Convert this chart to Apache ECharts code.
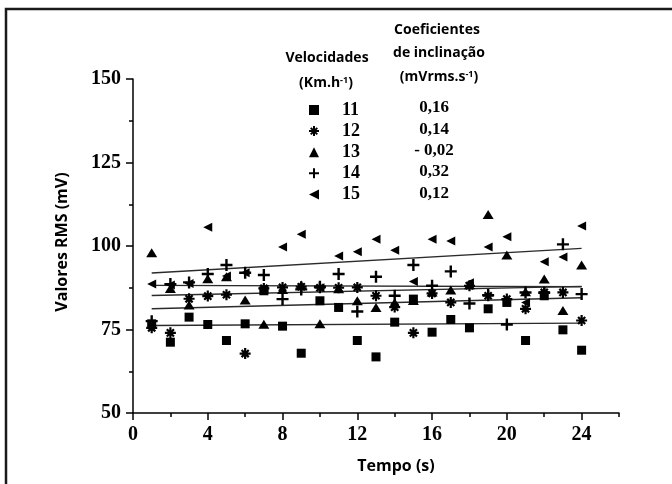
<!DOCTYPE html>
<html>
<head>
<meta charset="utf-8">
<script src="https://cdn.jsdelivr.net/npm/echarts@6/dist/echarts.min.js"></script>
<style>
html, body { margin: 0; padding: 0; background: #fff; }
#chart { width: 672px; height: 484px; }
</style>
</head>
<body>
<div id="chart"></div>
<script>
// tempo (s)
var tempo = [1, 2, 3, 4, 5, 6, 7, 8, 9, 10, 11, 12, 13, 14, 15, 16, 17, 18, 19, 20, 21, 22, 23, 24];

// valores RMS (mV) por velocidade
var v11 = [76.7, 71.2, 78.7, 76.5, 71.7, 76.7, 86.6, 76.0, 67.9, 83.6, 81.6, 71.7, 66.8, 77.2, 84.1, 74.2, 78.0, 75.5, 81.2, 83.1, 71.7, 85.1, 74.9, 68.8];
var v12 = [75.5, 74.0, 84.2, 85.0, 85.4, 67.8, 87.3, 87.6, 87.8, 87.5, 87.5, 87.6, 85.1, 81.7, 74.0, 85.8, 83.1, 88.1, 85.1, 84.1, 81.2, 86.1, 86.1, 77.7];
var v13 = [98.0, 87.3, 82.3, 90.2, 90.8, 83.8, 76.6, 87.0, 88.3, 76.7, 87.2, 83.6, 81.6, 83.0, 83.7, 86.2, 86.8, 88.4, 109.4, 97.3, 86.3, 90.1, 80.7, 94.3];
var v14 = [77.5, 88.6, 89.1, 91.6, 94.3, 92.0, 91.3, 84.1, 87.0, 87.8, 91.6, 80.4, 90.8, 85.1, 94.3, 88.1, 92.4, 82.8, 85.3, 76.5, 86.1, 86.0, 100.5, 85.6];
var v15 = [88.6, 88.3, 88.8, 105.6, 91.0, 92.0, 87.0, 99.7, 103.5, 87.5, 97.0, 98.3, 102.0, 98.7, 89.4, 102.0, 101.5, 89.0, 99.7, 102.8, 83.1, 95.3, 96.7, 106.0];

// retas de tendencia: valor em t=1 e em t=24
var fitStart = [76.2, 81.2, 88.2, 85.2, 91.9];
var fitEnd = [76.9, 84.5, 87.8, 87.9, 99.3];

var speeds = ['11', '12', '13', '14', '15'];
var slopes = ['0,16', '0,14', '- 0,02', '0,32', '0,12'];
var xLabels = [0, 4, 8, 12, 16, 20, 24];
var xMinor = [2, 6, 10, 14, 18, 22, 26];

var allValues = [v11, v12, v13, v14, v15];

var starPath = 'path://M0,4H10V6H0Z M4,0H6V10H4Z M2.46,1.04L8.96,7.54L7.54,8.96L1.04,2.46Z M8.96,2.46L2.46,8.96L1.04,7.54L7.54,1.04Z';
var plusPath = 'path://M4.8,0H7.2V4.8H12V7.2H7.2V12H4.8V7.2H0V4.8H4.8Z';
var leftTriPath = 'path://M0,5L10,0L10,10Z';
var symbols = ['rect', starPath, 'triangle', plusPath, leftTriPath];
var sizes = [9, 11, [11, 9], 12, [9, 9]];

var chart = echarts.init(document.getElementById('chart'));

var series = [];
speeds.forEach(function (s, i) {
  series.push({
    name: 'fit' + s,
    type: 'line',
    data: [[tempo[0], fitStart[i]], [tempo[tempo.length - 1], fitEnd[i]]],
    symbol: 'none',
    silent: true,
    lineStyle: { color: '#2b2b2b', width: 1.4 },
    z: 2
  });
});
speeds.forEach(function (s, i) {
  series.push({
    name: s,
    type: 'scatter',
    data: tempo.map(function (t, j) { return [t, allValues[i][j]]; }),
    symbol: symbols[i],
    symbolSize: sizes[i],
    itemStyle: { color: '#000', opacity: 1 },
    z: 3
  });
});

var sans = '"Open Sans", "Noto Sans", sans-serif';
var serif = '"Liberation Serif", "Times New Roman", serif';

var graphics = [
  { type: 'polyline', shape: { points: [[6, 484], [6, 9], [672, 9]] }, style: { stroke: '#1a1a1a', lineWidth: 2.5, fill: null } },
  { type: 'text', x: 437, y: 30, style: { text: 'Coeficientes', font: 'bold 14px ' + sans, fill: '#000', align: 'center', verticalAlign: 'middle' } },
  { type: 'text', x: 439, y: 53, style: { text: 'de inclinação', font: 'bold 14px ' + sans, fill: '#000', align: 'center', verticalAlign: 'middle' } },
  { type: 'text', x: 439, y: 77, style: { text: '(mVrms.s{s|-1})', font: 'bold 14px ' + sans, fill: '#000', align: 'center', verticalAlign: 'middle',
    rich: { s: { font: 'bold 9px ' + sans, verticalAlign: 'top', fill: '#000' } } } },
  { type: 'text', x: 327, y: 58, style: { text: 'Velocidades', font: 'bold 14px ' + sans, fill: '#000', align: 'center', verticalAlign: 'middle' } },
  { type: 'text', x: 326, y: 83, style: { text: '(Km.h{s|-1})', font: 'bold 14px ' + sans, fill: '#000', align: 'center', verticalAlign: 'middle',
    rich: { s: { font: 'bold 9px ' + sans, verticalAlign: 'top', fill: '#000' } } } },
  { type: 'text', x: 62, y: 242, rotation: Math.PI / 2, style: { text: 'Valores RMS (mV)', font: 'bold 16px ' + sans, fill: '#000', align: 'center', verticalAlign: 'middle' } },
  { type: 'text', x: 396, y: 466, style: { text: 'Tempo (s)', font: 'bold 16px ' + sans, fill: '#000', align: 'center', verticalAlign: 'middle' } }
];
slopes.forEach(function (txt, i) {
  graphics.push({ type: 'text', x: 434, y: 108 + i * 21.3,
    style: { text: txt, font: 'bold 17px ' + serif, fill: '#000', align: 'center', verticalAlign: 'middle' } });
});

var axisLine = { show: true, lineStyle: { color: '#000', width: 1.5 } };
var labelStyle = { fontFamily: serif, fontWeight: 'bold', fontSize: 20, color: '#000' };

chart.setOption({
  animation: false,
  grid: { left: 133, right: 53, top: 79, bottom: 71 },
  legend: {
    data: speeds,
    orient: 'vertical',
    left: 304,
    top: 96,
    itemWidth: 10,
    itemHeight: 10,
    itemGap: 3.1,
    selectedMode: false,
    itemStyle: { opacity: 1 },
    textStyle: { fontFamily: serif, fontWeight: 'bold', fontSize: 18, color: '#000', lineHeight: 12, padding: [0, 0, 0, 18] }
  },
  xAxis: [{
    type: 'value', min: 0, max: 26, interval: 4,
    axisLine: axisLine,
    axisTick: { show: true, length: 7, customValues: xLabels, lineStyle: { color: '#000', width: 1.5 } },
    axisLabel: Object.assign({ customValues: xLabels, margin: 12 }, labelStyle),
    splitLine: { show: false }
  }, {
    type: 'value', min: 0, max: 26, interval: 2, position: 'bottom',
    axisLine: { show: false },
    axisTick: { show: true, length: 4, customValues: xMinor, lineStyle: { color: '#000', width: 1.5 } },
    axisLabel: { show: false },
    splitLine: { show: false }
  }],
  yAxis: {
    type: 'value', min: 50, max: 150, interval: 25,
    axisLine: axisLine,
    axisTick: { show: true, length: 7, lineStyle: { color: '#000', width: 1.5 } },
    minorTick: { show: true, splitNumber: 2, length: 4, lineStyle: { color: '#000', width: 1.5 } },
    axisLabel: Object.assign({ margin: 12 }, labelStyle),
    splitLine: { show: false }
  },
  graphic: graphics,
  series: series
});
</script>
</body>
</html>
